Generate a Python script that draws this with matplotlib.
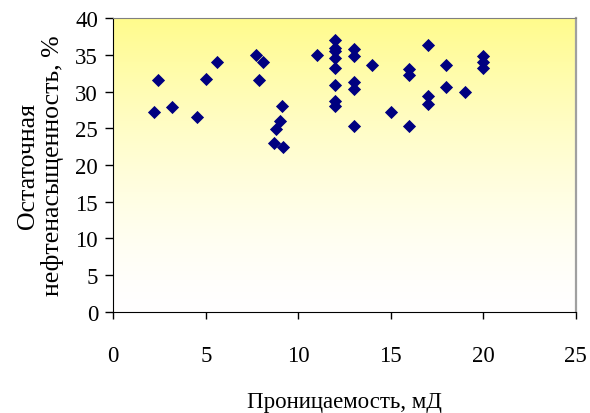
import numpy as np
import matplotlib
matplotlib.use("Agg")
import matplotlib.pyplot as plt

# permeability (mD) vs residual oil saturation (%)
perm = [2.2, 2.4, 3.2, 4.5, 5.0, 5.6,
        7.7, 8.1, 7.9, 9.1, 9.0, 8.8, 8.7, 9.2,
        11.0,
        12, 12, 12, 12, 12, 12, 12, 12,
        13, 13, 13, 13, 13,
        14.0, 15.0,
        16, 16, 16,
        17, 17, 17,
        18, 18, 19.0,
        20, 20, 20]
sat = [27.3, 31.6, 27.9, 26.6, 31.8, 34.1,
       35.0, 34.1, 31.6, 28.0, 26.0, 24.9, 23.0, 22.5,
       35.0,
       37.1, 36.0, 35.5, 34.6, 33.2, 30.9, 28.7, 28.0,
       35.9, 34.9, 31.3, 30.4, 25.4,
       33.6, 27.3,
       33.1, 32.3, 25.4,
       36.4, 29.4, 28.4,
       33.7, 30.7, 30.0,
       34.9, 34.0, 33.2]

xticks = [0, 5, 10, 15, 20, 25]
yticks = [0, 5, 10, 15, 20, 25, 30, 35, 40]

plt.rcParams['font.family'] = ['Liberation Serif', 'DejaVu Serif']

fig = plt.figure(figsize=(5.9, 4.14), dpi=100)
ax = fig.add_axes([0.192, 0.2447, 0.7838, 0.7082])

# yellow-to-white gradient background of the plot area
grad = np.linspace(0, 1, 256).reshape(-1, 1) ** 1.5
top = np.array([1.0, 0.985, 0.55])
bot = np.array([1.0, 1.0, 1.0])
img = bot + (top - bot) * grad[:, :, None]
ax.imshow(img, extent=[0, 25, 0, 40], origin='lower', aspect='auto', zorder=0)

ax.scatter(perm, sat, marker='D', s=45, color='#000080', zorder=3, linewidths=0)

ax.set_xlim(0, 25)
ax.set_ylim(0, 40)
ax.set_xticks(xticks)
ax.set_yticks(yticks)
ax.tick_params(axis='x', direction='out', length=5, width=1, pad=19, labelsize=16.5)
ax.tick_params(axis='y', direction='out', length=6, width=1, pad=5, labelsize=16.5)

ax.spines['top'].set_color('#808080')
ax.spines['right'].set_color('#a0a0a0')
ax.spines['right'].set_linewidth(1.6)
for s in ['left', 'bottom']:
    ax.spines[s].set_color('black')

ax.set_xlabel('Проницаемость, мД', fontsize=16.5, labelpad=18)
ax.set_ylabel('Остаточная\nнефтенасыщенность, %', fontsize=18.5, labelpad=8,
              linespacing=1.1)

fig.savefig('out.png', dpi=100)
